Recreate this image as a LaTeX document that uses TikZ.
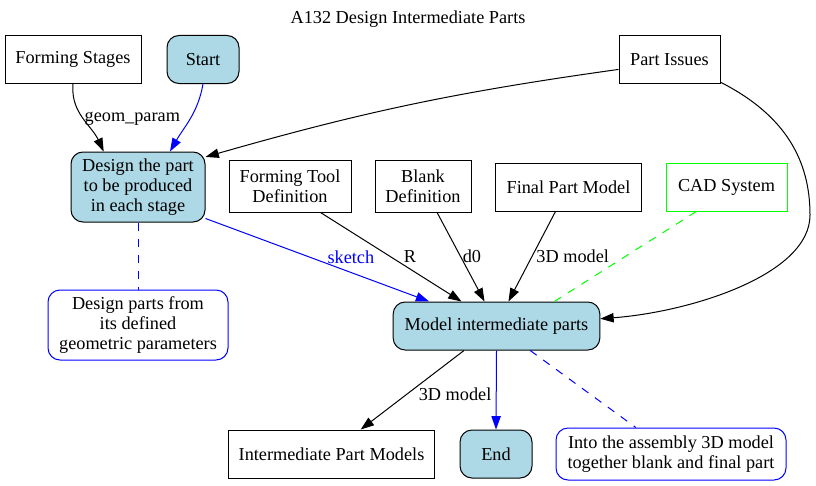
\documentclass[tikz,border=0pt]{standalone}
\usepackage{fontspec}
\setmainfont{Liberation Serif}
\usepackage{tikz}
\usetikzlibrary{shapes,arrows.meta,positioning,calc}
\definecolor{gvblue}{RGB}{0,0,255}
\definecolor{gvgreen}{RGB}{0,255,0}
\definecolor{gvlightblue}{RGB}{173,216,230}

\begin{document}
\begin{tikzpicture}[x=0.75pt, y=-0.75pt, font=\fontsize{13.7}{15}\selectfont]
\tikzstyle{io} = [rectangle, draw, align=center, minimum height=36pt, inner sep=2pt, line width=0.75pt]
\tikzstyle{act} = [io, fill=gvlightblue, rounded corners=9pt]
\tikzstyle{cmt} = [io, draw=gvblue, rounded corners=9pt]
\tikzstyle{a} = [-{Triangle[length=10pt,width=7pt]}, line width=0.75pt]
\tikzstyle{d} = [dash pattern=on 6pt off 6pt, line width=0.75pt]
\useasboundingbox (0,0) rectangle (816,485);
\node (title) at (408,19) {A132 Design Intermediate Parts};
\node [io, minimum width=102pt] (stages) at (73,59.5) {Forming Stages};
\node [act, minimum width=54pt] (start) at (203,59.5) {Start};
\node [io, minimum width=75.75pt] (issues) at (669.5,59.5) {Part Issues};
\node [act, minimum width=100.5pt, minimum height=52.5pt] (design) at (138,187) {Design the part\\to be produced\\in each stage};
\node [io, minimum width=91.5pt, minimum height=39pt] (tool) at (290,186) {Forming Tool\\Definition};
\node [io, minimum width=72pt, minimum height=39pt] (blank) at (423,186) {Blank\\Definition};
\node [io, minimum width=110pt] (final) at (568.5,187) {Final Part Model};
\node [io, draw=gvgreen, minimum width=90.75pt] (cad) at (726.5,187) {CAD System};
\node [cmt, minimum width=135pt, minimum height=52.5pt] (note1) at (138,325) {Design parts from\\its defined\\geometric parameters};
\node [act, minimum width=155pt] (model) at (496.5,326) {Model intermediate parts};
\node [io, minimum width=154pt] (models) at (331.5,454) {Intermediate Part Models};
\node [act, minimum width=54pt] (end) at (496,454) {End};
\node [cmt, minimum width=172.5pt, minimum height=39pt] (note2) at (671,454) {Into the assembly 3D model\\together blank and final part};
% inputs of the first activity
\draw [a] (stages.south) to[out=-95, in=115] node[right, pos=0.5, inner sep=1pt] {geom\_param} (design.134);
\draw [a, gvblue] (start.south) to[out=-100, in=60] (design.48);
\draw [a] (issues.191) to[bend right=4] (design.24);
\draw [d, gvblue] (design.south) -- (note1.north);
% inputs of the second activity
\draw [a, gvblue] (design.335) -- node[above=3pt, pos=0.65, text=gvblue] {sketch} (model.160);
\draw [a] (tool.319) -- node[right=7pt, pos=0.49] {R} (model.145);
\draw [a] (blank.298) -- node[right, pos=0.49, inner sep=1.5pt] {d0} (model.116);
\draw [a] (final.242) -- node[right, pos=0.5, inner sep=3pt] {3D model} (model.64);
\draw [d, gvgreen] (cad.219) -- (model.23);
\draw [a] (issues.336) .. controls (785,115) and (810,160) .. (810,215) .. controls (810,275) and (690,312) .. (model.4);
% outputs
\draw [a] (model.217) -- node[right=5pt, pos=0.55] {3D model} (models.40);
\draw [a, gvblue] (model.south) -- (end.north);
\draw [d, gvblue] (model.324) -- (note2.143);
\end{tikzpicture}
\end{document}
